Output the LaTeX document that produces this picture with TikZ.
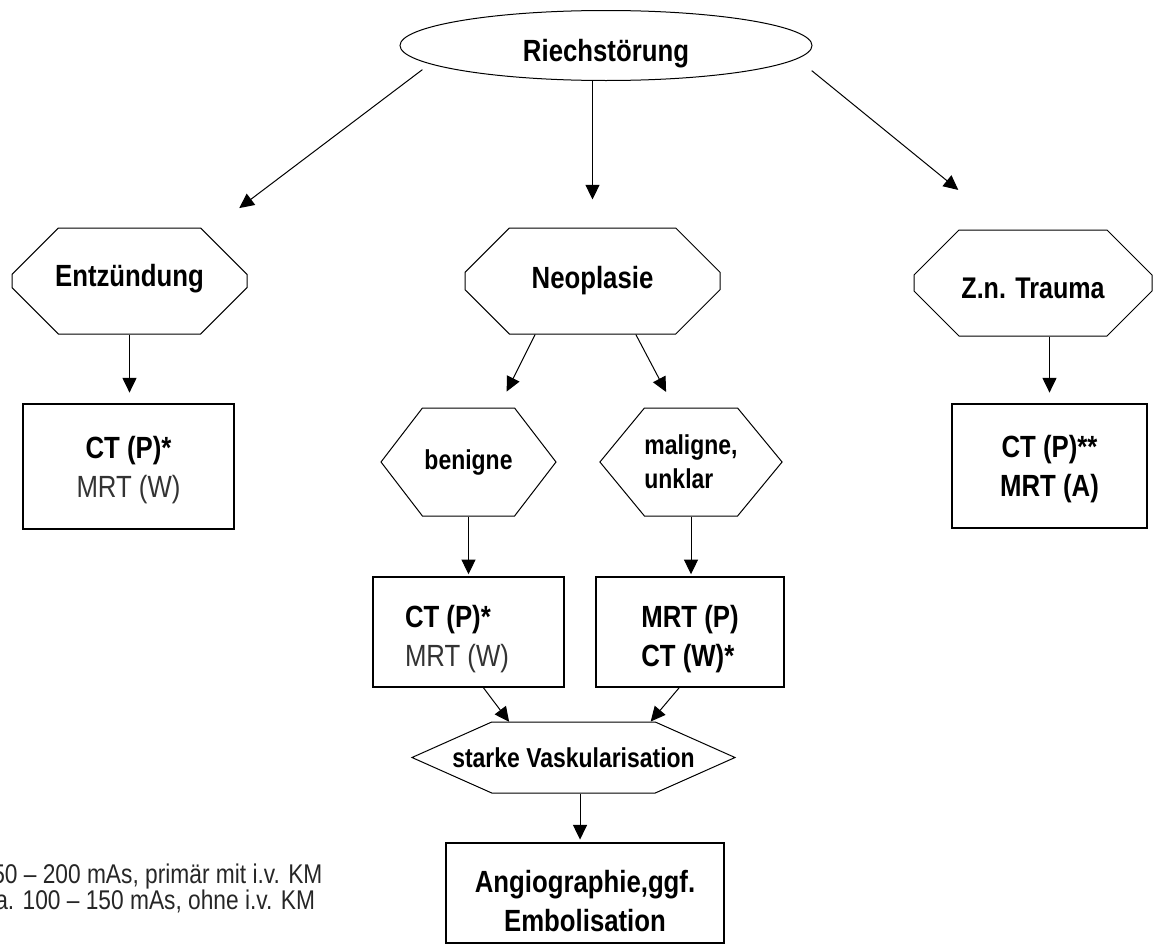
\documentclass[tikz,border=0pt]{standalone}
\usepackage{fontspec}
\setmainfont{Liberation Sans}[FakeStretch=0.84]
\usetikzlibrary{shapes.geometric,shapes.misc,shapes.symbols,arrows.meta}

\tikzset{
  arr/.style={-{Triangle[length=11pt,width=10.5pt]}, line width=0.75pt},
  octa/.style={chamfered rectangle, draw, line width=0.75pt, inner sep=0pt,
    chamfered rectangle xsep=24.75pt, chamfered rectangle ysep=22.5pt,
    minimum height=79.5pt, font=\bfseries\fontsize{23pt}{28pt}\selectfont},
  hexa/.style={signal, signal to=east and west, draw, line width=0.75pt, inner sep=0pt,
    font=\bfseries\fontsize{20.5pt}{25.5pt}\selectfont, align=left},
  box/.style={rectangle, draw, line width=1.1pt, inner sep=0pt,
    font=\bfseries\fontsize{23pt}{29.25pt}\selectfont},
  note/.style={anchor=base west, inner sep=0pt, text=black!85,
    font=\fontsize{20.3pt}{19.5pt}\selectfont}
}

\begin{document}
\begin{tikzpicture}[x=0.75pt,y=-0.75pt]
\useasboundingbox (0,0) rectangle (1154,946);
\clip (0,0) rectangle (1154,946);

\node (riech) [draw, ellipse, line width=0.75pt, inner sep=0pt, minimum width=309pt, minimum height=52.5pt,
  text height=23.25pt, text depth=0pt, font=\bfseries\fontsize{23pt}{28pt}\selectfont] at (606,45.5) {Riechstörung};

\node (entz) [octa, minimum width=176.25pt, text depth=8pt] at (129.5,281) {Entzündung};
\node (neo) [octa, minimum width=191.25pt] at (592.5,281) {Neoplasie};
\node (trauma) [octa, minimum width=178.5pt, text height=22.5pt, text depth=0pt,
  font=\bfseries\fontsize{22.4pt}{28pt}\selectfont] at (1033,283) {Z.n. Trauma};

\node (ebox) [box, minimum width=158.25pt, minimum height=93.75pt, align=center] at (128.5,466.5)
  {\rule{0pt}{22pt}CT (P)*\\\mdseries\textcolor{black!80}{MRT (W)}};
\node (zbox) [box, minimum width=146.25pt, minimum height=93pt, align=center] at (1049.5,466)
  {\rule{0pt}{22pt}CT (P)**\\MRT (A)};

\node (ben) [hexa, signal pointer angle=105, minimum width=131.25pt, minimum height=81pt] at (468.5,462) {benigne};
\node (mal) [hexa, signal pointer angle=101, minimum width=133.5pt, minimum height=81pt] at (691,462) {maligne,\\unklar};

\node (bbox) [box, minimum width=143.25pt, minimum height=82.5pt, inner xsep=24pt, text width=95.25pt,
  align=flush left] at (468.5,632)
  {\rule{0pt}{27pt}CT (P)*\\\mdseries\textcolor{black!80}{MRT (W)}};
\node (mbox) [box, minimum width=141pt, minimum height=82.5pt, align=left] at (690,632)
  {\rule{0pt}{27pt}MRT (P)\\CT (W)*};

\node (vasc) [hexa, signal pointer angle=48, minimum width=242.25pt, minimum height=53.25pt] at (573.5,757.5)
  {\makebox[0pt]{starke Vaskularisation}};

\node (angio) [box, minimum width=208.5pt, minimum height=75pt, align=center] at (585,893)
  {\rule{0pt}{29pt}Angiographie,ggf.\\Embolisation};

\node (fn1) [note] at (-8,883) {50 – 200 mAs, primär mit i.v. KM};
\node (fn2) [note] at (-5,909) {a. 100 – 150 mAs, ohne i.v. KM};

\draw[arr, shorten <=7pt, shorten >=31pt] (riech.186) -- (entz.32);
\draw[arr, shorten >=21pt] (riech.south -| neo.north) -- (neo.north);
\draw[arr, shorten <=14pt, shorten >=47pt] (riech.356.3) -- (trauma.116);

\draw[arr, shorten >=8pt] (entz.south) -- (entz.south |- ebox.north);
\draw[arr, shorten >=8pt] (zbox.north |- trauma.south) -- (zbox.north);

\draw[arr, shorten >=13.4pt] (neo.223) -- (ben.61);
\draw[arr, shorten >=13.3pt] (neo.309) -- (mal.107);

\draw[arr, shorten >=1.5pt] (ben.south) -- (ben.south |- bbox.north);
\draw[arr, shorten >=1.5pt] (mal.south) -- (mal.south |- mbox.north);

\draw[arr] (bbox.285) -- (vasc.151);
\draw[arr] (mbox.259) -- (vasc.25);

\draw[arr, shorten >=2pt] ([xshift=4.9pt]vasc.south) -- ([xshift=4.9pt]vasc.south |- angio.north);
\end{tikzpicture}
\end{document}
